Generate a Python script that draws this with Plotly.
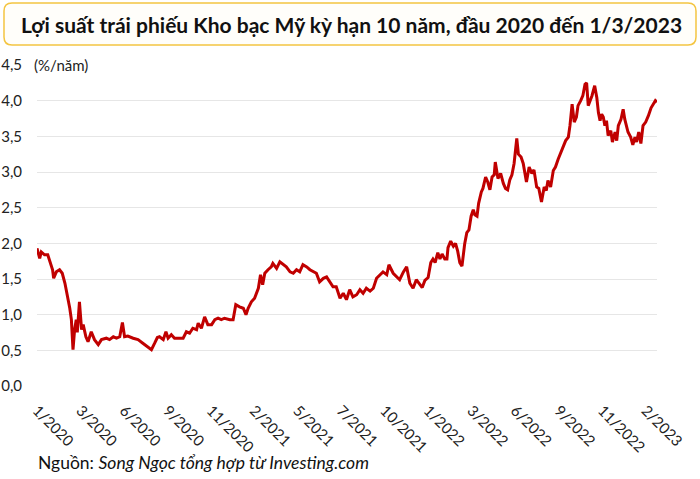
import pandas as pd
import plotly.graph_objects as go

# 10y US Treasury yield (days counted from 2 Jan 2020)
day_offset = [
    0, 5, 8, 14, 20, 24, 29, 31, 36, 42, 47, 52, 56, 61, 64, 67, 70, 73, 75, 79,
    83, 86, 91, 95, 101, 107, 114, 120, 129, 135, 142, 148, 154, 159, 163, 169, 179, 188, 197, 207,
    213, 219, 224, 228, 235, 240, 244, 250, 256, 266, 272, 278, 284, 290, 297, 300, 306, 312, 318, 325,
    331, 337, 343, 349, 359, 365, 370, 377, 384, 389, 393, 399, 405, 412, 416, 420, 424, 430, 436, 439,
    446, 452, 458, 464, 471, 477, 483, 489, 495, 502, 508, 514, 520, 526, 533, 539, 545, 551, 557, 564,
    570, 576, 582, 588, 595, 601, 607, 613, 620, 626, 632, 638, 644, 651, 655, 663, 669, 675, 682, 688,
    694, 700, 706, 713, 717, 722, 728, 733, 737, 741, 746, 750, 754, 759, 763, 765, 770, 775, 779, 783,
    787, 791, 796, 800, 804, 808, 812, 815, 819, 822, 827, 830, 835, 839, 843, 847, 851, 853, 858, 863,
    868, 872, 876, 880, 884, 888, 893, 896, 901, 905, 911, 916, 921, 925, 930, 934, 939, 944, 948, 951,
    956, 961, 965, 970, 975, 979, 984, 989, 992, 996, 1000, 1004, 1007, 1012, 1016, 1020, 1023, 1026, 1030, 1033,
    1038, 1042, 1045, 1048, 1051, 1054, 1057, 1060, 1063, 1068, 1071, 1076, 1079, 1082, 1087, 1091, 1094, 1097, 1100, 1105,
    1109, 1113, 1116, 1120, 1124, 1128, 1133, 1138, 1143, 1147, 1151, 1154,
]
yield_pct = [
    1.93, 1.79, 1.88, 1.84, 1.84, 1.74, 1.63, 1.51, 1.60, 1.63, 1.58, 1.44, 1.30, 1.09, 0.93, 0.51, 0.79, 0.93, 0.75, 1.18,
    0.79, 0.86, 0.69, 0.62, 0.76, 0.65, 0.58, 0.65, 0.67, 0.65, 0.69, 0.67, 0.69, 0.89, 0.69, 0.70, 0.67, 0.65, 0.60, 0.55,
    0.51, 0.60, 0.68, 0.69, 0.65, 0.76, 0.67, 0.72, 0.67, 0.67, 0.67, 0.76, 0.74, 0.81, 0.79, 0.88, 0.81, 0.97, 0.86, 0.86,
    0.93, 0.95, 0.93, 0.95, 0.93, 0.93, 1.14, 1.11, 1.09, 1.00, 1.09, 1.18, 1.23, 1.37, 1.56, 1.42, 1.58, 1.63, 1.67, 1.72,
    1.65, 1.74, 1.70, 1.67, 1.60, 1.58, 1.63, 1.60, 1.70, 1.67, 1.63, 1.60, 1.58, 1.46, 1.51, 1.53, 1.46, 1.39, 1.39, 1.23,
    1.30, 1.21, 1.35, 1.25, 1.28, 1.35, 1.30, 1.37, 1.33, 1.37, 1.51, 1.56, 1.60, 1.56, 1.70, 1.58, 1.53, 1.49, 1.60, 1.67,
    1.44, 1.37, 1.49, 1.42, 1.38, 1.48, 1.52, 1.73, 1.78, 1.73, 1.87, 1.78, 1.85, 1.78, 1.78, 1.94, 2.03, 1.96, 2.00, 1.89,
    1.73, 1.68, 1.99, 2.15, 2.19, 2.38, 2.47, 2.40, 2.38, 2.56, 2.72, 2.77, 2.93, 2.86, 2.75, 2.93, 2.96, 3.14, 2.91, 2.98,
    2.84, 2.77, 2.75, 2.89, 2.96, 3.12, 3.47, 3.25, 3.21, 3.12, 2.86, 3.07, 2.98, 3.03, 2.79, 2.77, 2.58, 2.79, 2.74, 2.88,
    2.79, 3.02, 3.07, 3.18, 3.28, 3.35, 3.44, 3.49, 3.65, 3.95, 3.70, 3.77, 3.93, 4.00, 4.07, 4.23, 4.25, 3.93, 4.00, 4.07,
    4.21, 4.04, 3.83, 3.72, 3.81, 3.77, 3.65, 3.72, 3.51, 3.58, 3.42, 3.56, 3.44, 3.65, 3.74, 3.88, 3.74, 3.63, 3.56, 3.49,
    3.38, 3.49, 3.42, 3.56, 3.40, 3.65, 3.70, 3.79, 3.90, 3.95, 4.00, 3.98,
]

tick_dates = [
    "2020-01-02", "2020-03-23", "2020-06-12", "2020-09-01", "2020-11-21",
    "2021-02-09", "2021-05-01", "2021-07-21", "2021-10-10", "2021-12-30",
    "2022-03-21", "2022-06-10", "2022-08-30", "2022-11-19", "2023-02-08",
]
tick_labels = [
    "1/2020", "3/2020", "6/2020", "9/2020", "11/2020",
    "2/2021", "5/2021", "7/2021", "10/2021", "1/2022",
    "3/2022", "6/2022", "9/2022", "11/2022", "2/2023",
]

title_text = "Lợi suất trái phiếu Kho bạc Mỹ kỳ hạn 10 năm, đầu 2020 đến 1/3/2023"
unit_text = "(%/năm)"
source_text = "Nguồn: <i>Song Ngọc tổng hợp từ Investing.com</i>"

dates = pd.Timestamp("2020-01-02") + pd.to_timedelta(day_offset, unit="D")

W, H = 700, 479
ML, MR, MT, MB = 37, 43, 65, 93
PW, PH = W - ML - MR, H - MT - MB


def fx(x):
    return (x - ML) / PW


def fy(y):
    return (H - MB - y) / PH


# rounded title box, corners drawn with quadratic curves
bx0, bx1, by0, by1, r = 4, 696, 3, 45, 8
pts = [
    ("M", bx0 + r, by0), ("L", bx1 - r, by0), ("Q", bx1, by0, bx1, by0 + r),
    ("L", bx1, by1 - r), ("Q", bx1, by1, bx1 - r, by1), ("L", bx0 + r, by1),
    ("Q", bx0, by1, bx0, by1 - r), ("L", bx0, by0 + r), ("Q", bx0, by0, bx0 + r, by0),
]
path = ""
for p in pts:
    cmd, coords = p[0], p[1:]
    xy = []
    for i in range(0, len(coords), 2):
        xy.append(f"{fx(coords[i]):.5f},{fy(coords[i + 1]):.5f}")
    path += cmd + " ".join(xy) + " "
path += "Z"

fig = go.Figure()
fig.add_trace(go.Scatter(
    x=dates, y=yield_pct, mode="lines",
    line=dict(color="#C00000", width=3),
    showlegend=False,
))

fig.add_shape(type="path", path=path, xref="paper", yref="paper",
              line=dict(color="#F4C542", width=1.5), fillcolor="#FFFEFA", layer="below")

fig.add_annotation(text=title_text, xref="paper", yref="paper", x=fx(19), y=fy(25),
                   xanchor="left", yanchor="middle", showarrow=False,
                   font=dict(family="Lato", size=21, color="#111111", weight="bold"))
fig.add_annotation(text=unit_text, xref="paper", yref="y", x=fx(29), y=4.5,
                   xanchor="left", yanchor="middle", showarrow=False,
                   bgcolor="white", borderpad=4,
                   font=dict(family="Lato", size=15, color="#222222"))
fig.add_annotation(text=source_text, xref="paper", yref="paper", x=fx(36), y=fy(462),
                   xanchor="left", yanchor="middle", showarrow=False,
                   font=dict(family="Lato", size=17.5, color="#111111"))

fig.update_layout(
    width=W, height=H,
    margin=dict(l=ML, r=MR, t=MT, b=MB),
    plot_bgcolor="white", paper_bgcolor="white",
    separators=", ",
    font=dict(family="Lato", size=15, color="#222222"),
    xaxis=dict(
        range=["2020-01-02", "2023-03-01"],
        tickmode="array", tickvals=tick_dates, ticktext=tick_labels,
        tickangle=45, showgrid=False, showline=False, zeroline=False,
        ticks="", ticklabelstandoff=12, automargin=False,
    ),
    yaxis=dict(
        range=[0, 4.5], dtick=0.5, tickformat=".1f",
        showgrid=True, gridcolor="#E6E6E6", gridwidth=1,
        zeroline=False, showline=False, ticks="", ticklabelstandoff=14,
        automargin=False,
    ),
)

# drop the browser's default 8px page margin so the figure sits at 0,0
fig.write_html("out.html", config={"displayModeBar": False},
               post_script="document.body.style.margin = '0';")
